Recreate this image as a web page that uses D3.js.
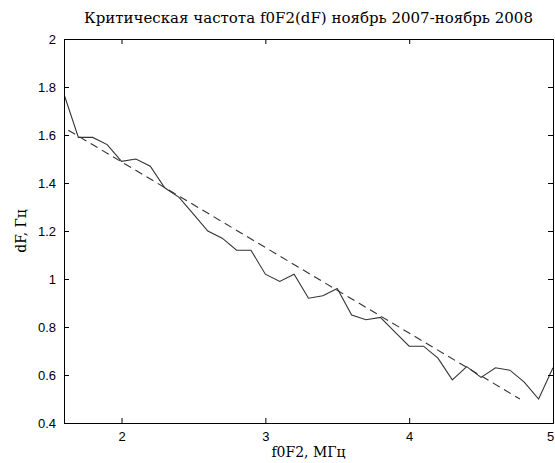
<!DOCTYPE html>
<html><head><meta charset="utf-8">
<script src="https://cdn.jsdelivr.net/npm/d3@7"></script>
<style>body{margin:0;background:#fff}svg{display:block}</style>
</head><body>
<svg id="c" width="555" height="463"></svg>
<script>
const freqX = [1.6,1.7,1.8,1.9,2.0,2.1,2.2,2.3,2.4,2.5,2.6,2.7,2.8,2.9,3.0,3.1,3.2,3.3,3.4,3.5,3.6,3.7,3.8,3.9,4.0,4.1,4.2,4.3,4.4,4.5,4.6,4.7,4.8,4.9,5.0];
const dFValues = [1.77,1.59,1.59,1.56,1.49,1.50,1.47,1.38,1.34,1.27,1.20,1.17,1.12,1.12,1.02,0.99,1.02,0.92,0.93,0.96,0.85,0.83,0.84,0.78,0.72,0.72,0.67,0.58,0.635,0.59,0.63,0.62,0.57,0.50,0.63];
const fitX = [1.63, 4.77];
const fitY = [1.62, 0.50];
const xTicks = [2,3,4,5];
const yTicks = [0.4,0.6,0.8,1,1.2,1.4,1.6,1.8,2];
const titleText = "Критическая частота f0F2(dF) ноябрь 2007-ноябрь 2008";
const xLabel = "f0F2, МГц";
const yLabel = "dF, Гц";

const L=64, R=553, T=39, B=423;
const svg = d3.select("#c");
const x = d3.scaleLinear().domain([1.6,5]).range([L,R]);
const y = d3.scaleLinear().domain([0.4,2]).range([B,T]);

svg.append("clipPath").attr("id","clp").append("rect").attr("x",L).attr("y",T).attr("width",R-L).attr("height",B-T);

const line = d3.line().x(d=>x(d[0])).y(d=>y(d[1]));
const g = svg.append("g").attr("clip-path","url(#clp)");
g.append("path").datum(freqX.map((v,i)=>[v,dFValues[i]]))
 .attr("d",line).attr("fill","none").attr("stroke","#333").attr("stroke-width",1.1);
g.append("path").datum(fitX.map((v,i)=>[v,fitY[i]]))
 .attr("d",line).attr("fill","none").attr("stroke","#333").attr("stroke-width",1.1).attr("stroke-dasharray","8,5");

const font = "Liberation Sans, Arial, sans-serif";
const axB = svg.append("g").attr("transform",`translate(0,${B})`)
 .call(d3.axisBottom(x).tickValues(xTicks).tickSize(-5).tickPadding(9).tickFormat(d3.format("d")));
const axT = svg.append("g").attr("transform",`translate(0,${T})`)
 .call(d3.axisTop(x).tickValues(xTicks).tickSize(-5).tickFormat(""));
const axL = svg.append("g").attr("transform",`translate(${L},0)`)
 .call(d3.axisLeft(y).tickValues(yTicks).tickSize(-5).tickPadding(8).tickFormat(d=>String(+d.toFixed(1))));
const axR = svg.append("g").attr("transform",`translate(${R},0)`)
 .call(d3.axisRight(y).tickValues(yTicks).tickSize(-5).tickFormat(""));
[axB,axT,axL,axR].forEach(a=>{
  a.selectAll(".domain").attr("stroke","#000").attr("stroke-width",1);
  a.selectAll(".tick line").attr("stroke","#000");
  a.selectAll("text").attr("font-family",font).attr("font-size",13).attr("fill","#000");
});
axB.selectAll(".tick text").filter(d=>d===5).attr("dx",-3);

const serif = "DejaVu Serif, Liberation Serif, serif";
svg.append("text").attr("x",(L+R)/2).attr("y",23).attr("text-anchor","middle")
 .attr("font-family",serif).attr("font-size",15).text(titleText);
svg.append("text").attr("x",(L+R)/2).attr("y",457).attr("text-anchor","middle")
 .attr("font-family",serif).attr("font-size",14).text(xLabel);
svg.append("text").attr("transform",`translate(26,${(T+B)/2}) rotate(-90)`).attr("text-anchor","middle")
 .attr("font-family",serif).attr("font-size",14).text(yLabel);
</script>
</body></html>
